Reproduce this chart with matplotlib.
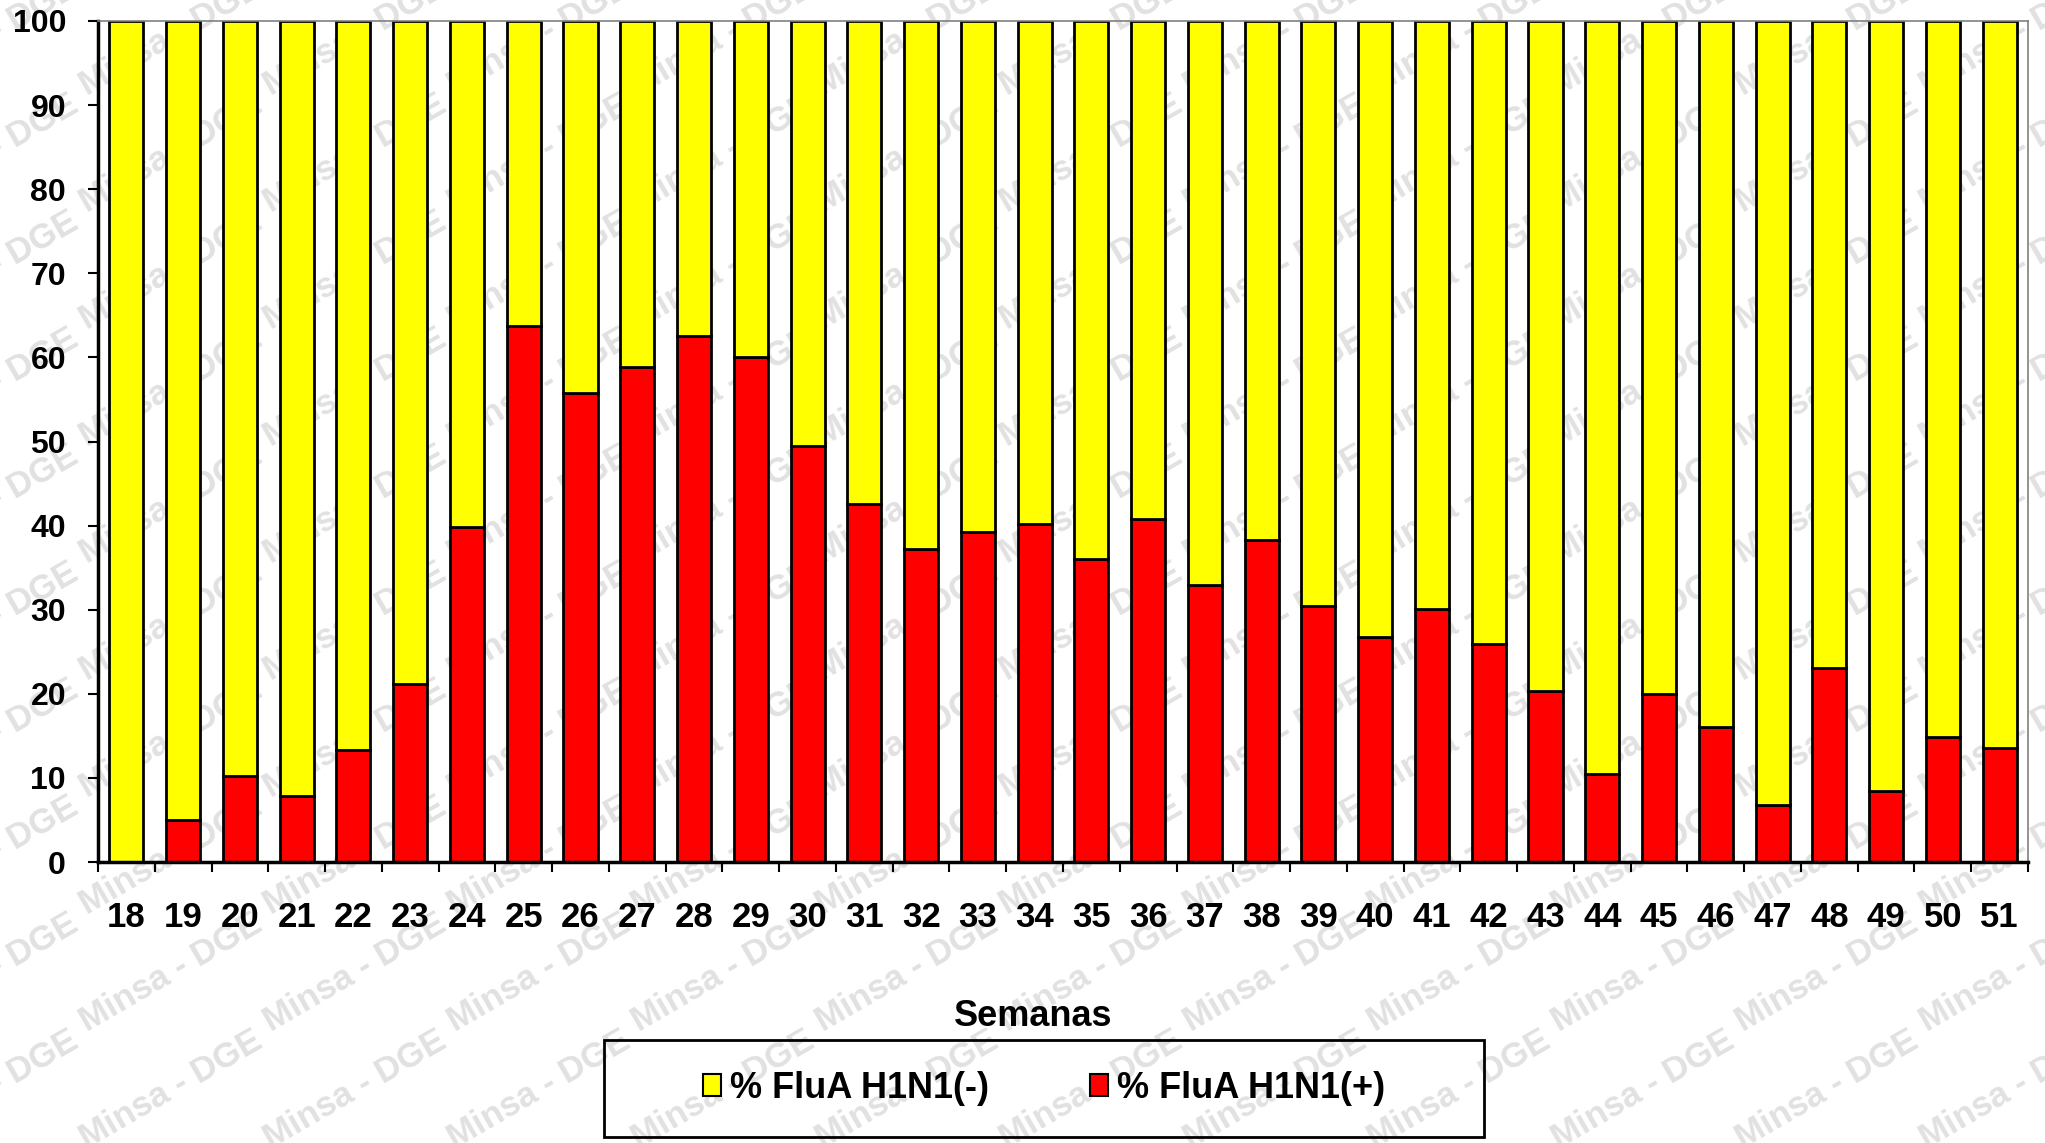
import matplotlib
matplotlib.use("Agg")
import matplotlib.pyplot as plt
from matplotlib.patches import Rectangle, Patch
import numpy as np

plt.rcParams["font.family"] = ["Liberation Sans", "DejaVu Sans"]
plt.rcParams["font.weight"] = "bold"

# semanas epidemiologicas
weeks = [str(w) for w in range(18, 52)]
# % FluA H1N1(+)
pos = [0.0, 5.0, 10.2, 7.8, 13.3, 21.2, 39.8, 63.7, 55.8, 58.9, 62.5, 60.0,
       49.5, 42.6, 37.2, 39.2, 40.2, 36.0, 40.8, 32.9, 38.3, 30.4, 26.8, 30.1,
       25.9, 20.3, 10.5, 20.0, 16.0, 6.8, 23.1, 8.4, 14.9, 13.6]
neg = [100 - v for v in pos]
labels = ["% FluA H1N1(-)", "% FluA H1N1(+)"]
yticks = list(range(0, 101, 10))

W, H = 2045, 1143
fig = plt.figure(figsize=(W / 100, H / 100), dpi=100)

# watermark "Minsa - DGE" behind the chart
for i in range(-1, 12):
    for j in range(-1, 10):
        fig.text((87 + 184 * i) / W, 1 - (1032 - 117 * j) / H, "Minsa - DGE",
                 rotation=30, rotation_mode="anchor", ha="left", va="baseline",
                 fontsize=25, color="#e1e1e1", zorder=0)

ax = fig.add_axes([98 / W, 1 - 862 / H, 1930 / W, 841 / H])
ax.set_zorder(2)
ax.patch.set_alpha(0)

x = np.arange(len(weeks))
ax.bar(x, pos, width=0.6, color="#ff0000", edgecolor="black", linewidth=2)
ax.bar(x, neg, width=0.6, bottom=pos, color="#ffff00", edgecolor="black", linewidth=2)

ax.set_xlim(-0.5, len(weeks) - 0.5)
ax.set_ylim(0, 100)
ax.set_yticks(yticks)
ax.set_yticklabels([str(t) for t in yticks], fontsize=23, fontweight="bold")
ax.set_xticks(np.arange(len(weeks) + 1) - 0.5)
ax.set_xticklabels([])
ax.set_xticks(x, minor=True)
ax.set_xticklabels(weeks, minor=True, fontsize=25, fontweight="bold")
ax.tick_params(axis="x", which="major", length=7, width=1.5, direction="out")
ax.tick_params(axis="x", which="minor", length=0, pad=28)
ax.tick_params(axis="y", length=7, width=1.5, pad=16)

for s in ["left", "bottom"]:
    ax.spines[s].set_linewidth(2.5)
    ax.spines[s].set_color("black")
for s in ["top", "right"]:
    ax.spines[s].set_linewidth(1.2)
    ax.spines[s].set_color("#808080")

ax.set_xlabel("Semanas", fontsize=26, fontweight="bold")
ax.xaxis.set_label_coords(1033 / W, 1 - 1017 / H, transform=fig.transFigure)
ax.xaxis.label.set_va("center")

# legend box
fig.patches.append(Rectangle((604 / W, 1 - 1137 / H), 880 / W, 97 / H,
                             transform=fig.transFigure, fill=False,
                             edgecolor="black", linewidth=2, zorder=3))
handles = [Patch(facecolor="#ffff00", edgecolor="black", linewidth=1.5),
           Patch(facecolor="#ff0000", edgecolor="black", linewidth=1.5)]
leg = fig.legend(handles, labels, loc="center", ncol=2, frameon=False,
                 bbox_to_anchor=(1044 / W, 1 - 1088 / H),
                 prop={"size": 26, "weight": "bold"},
                 handlelength=0.5, handleheight=0.55, handletextpad=0.25,
                 columnspacing=2.8)

fig.savefig("out.png", dpi=100)
